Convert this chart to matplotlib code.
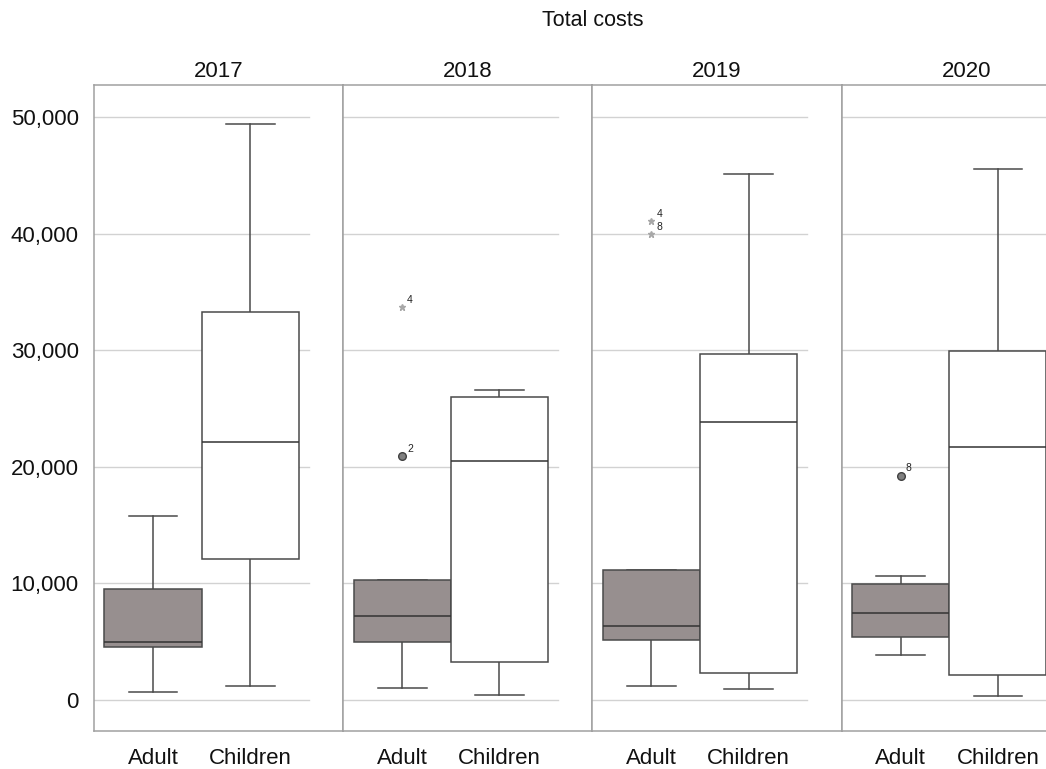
import matplotlib
matplotlib.use("Agg")
from matplotlib import pyplot as plt
from matplotlib.ticker import FuncFormatter

plt.rcParams['font.family'] = ['Liberation Sans', 'DejaVu Sans']

years = ['2017', '2018', '2019', '2020']
groups = ['Adult', 'Children']

# five-number summaries per year
adult_low = [690, 1030, 1170, 3800]
adult_q1 = [4520, 4920, 5170, 5370]
adult_med = [4970, 7180, 6290, 7430]
adult_q3 = [9490, 10270, 11150, 9920]
adult_high = [15780, 10270, 11150, 10600]

child_low = [1140, 430, 885, 340]
child_q1 = [12090, 3230, 2315, 2120]
child_med = [22130, 20500, 23840, 21700]
child_q3 = [33280, 25960, 29700, 29930]
child_high = [49400, 26590, 45110, 45540]

# outlying cases (adult group), circle = outlier, star = extreme
outlier_year = [1, 1, 2, 2, 3]
outlier_value = [20900, 33730, 41100, 39940, 19240]
outlier_case = ['2', '4', '4', '8', '8']
outlier_extreme = [False, True, True, True, False]

yticks = [0, 10000, 20000, 30000, 40000, 50000]

fig = plt.figure(figsize=(10.46, 7.69), dpi=100)

W, H = 1046, 769
left, panel_w = 94, 249.2
top, bottom = 85.3, 731
positions = [0.237, 0.627]
box_w = 0.39
fills = ['#978f8f', 'white']
edge = '#4a4a4a'

axes = []
for i, yr in enumerate(years):
    ax = fig.add_axes([(left + i * panel_w) / W, (H - bottom) / H,
                       panel_w / W, (bottom - top) / H])
    axes.append(ax)
    stats = []
    for lo, q1, med, q3, hi, name in [
        (adult_low[i], adult_q1[i], adult_med[i], adult_q3[i], adult_high[i], groups[0]),
        (child_low[i], child_q1[i], child_med[i], child_q3[i], child_high[i], groups[1]),
    ]:
        stats.append(dict(whislo=lo, q1=q1, med=med, q3=q3, whishi=hi,
                          fliers=[], label=name))
    bp = ax.bxp(stats, positions=positions, widths=box_w, patch_artist=True,
                showfliers=False,
                boxprops=dict(edgecolor=edge, linewidth=1.1),
                medianprops=dict(color='#333333', linewidth=1.1),
                whiskerprops=dict(color=edge, linewidth=1.1),
                capprops=dict(color=edge, linewidth=1.1))
    for patch, c in zip(bp['boxes'], fills):
        patch.set_facecolor(c)
        patch.set_zorder(3)
    for m in bp['medians']:
        m.set_zorder(4)
    for y in yticks:
        ax.axhline(y, xmin=0, xmax=0.863, color='#d2d2d2', linewidth=1.0, zorder=0)

    ax.set_xlim(0, 1)
    ax.set_ylim(-2680, 52730)
    ax.set_yticks(yticks)
    ax.yaxis.set_major_formatter(FuncFormatter(lambda v, p: f'{int(v):,}'))
    ax.tick_params(axis='both', length=0, labelsize=16, labelcolor='#111111')
    ax.tick_params(axis='y', pad=11)
    ax.tick_params(axis='x', pad=12)
    if i > 0:
        ax.tick_params(axis='y', labelleft=False)
    for s in ax.spines.values():
        s.set_color('#a0a0a0')
        s.set_linewidth(1.1)
    ax.set_title(yr, fontsize=16, pad=6, color='#111111')

for yi, val, case, ext in zip(outlier_year, outlier_value, outlier_case, outlier_extreme):
    ax = axes[yi]
    if ext:
        ax.plot(positions[0], val, marker='*', color='#a8a8a8', markersize=5,
                linestyle='none', zorder=4)
    else:
        ax.plot(positions[0], val, marker='o', markerfacecolor='#808080',
                markeredgecolor='#404040', markersize=5.5, linestyle='none', zorder=4)
    ax.annotate(case, (positions[0], val), xytext=(3.5, 3), textcoords='offset points',
                fontsize=7.5, color='#222222')

fig.text((left + 2 * panel_w) / W, 1 - 20 / H, 'Total costs', ha='center', va='center',
         fontsize=15.5, color='#111111')

fig.savefig('out.png', dpi=100)
